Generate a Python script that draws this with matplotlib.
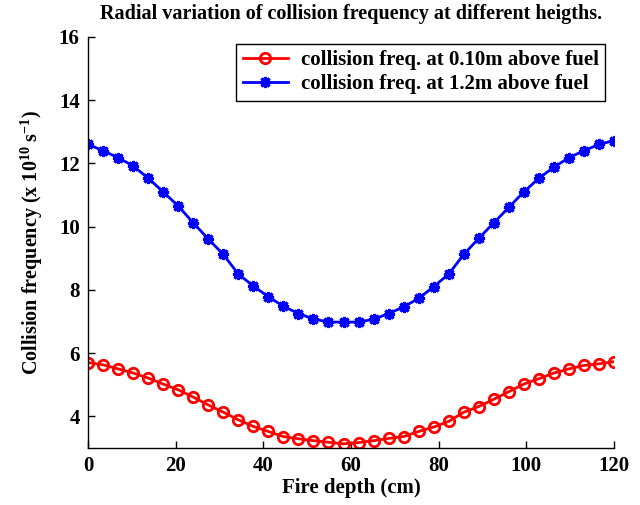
import numpy as np
import matplotlib
matplotlib.use("Agg")
import matplotlib.pyplot as plt

# Fire depth positions (cm) and collision frequency (x 10^10 s^-1)
depth = np.linspace(0, 120, 36)

freq_010m = [5.70, 5.63, 5.50, 5.37, 5.21, 5.02, 4.84, 4.61, 4.36, 4.13, 3.89, 3.68,
             3.52, 3.36, 3.29, 3.23, 3.18, 3.13, 3.17, 3.23, 3.30, 3.36, 3.52,
             3.66, 3.84, 4.13, 4.31, 4.54, 4.78, 5.02, 5.19, 5.37, 5.50, 5.61, 5.66, 5.73]

freq_12m = [12.60, 12.40, 12.18, 11.92, 11.53, 11.10, 10.65, 10.12, 9.61, 9.12, 8.50, 8.12,
            7.78, 7.48, 7.25, 7.08, 6.98, 6.98, 6.98, 7.07, 7.25, 7.46, 7.73, 8.10,
            8.50, 9.12, 9.63, 10.12, 10.61, 11.10, 11.53, 11.88, 12.18, 12.40, 12.60, 12.72]

x_ticks = [0, 20, 40, 60, 80, 100, 120]
y_ticks = [4, 6, 8, 10, 12, 14, 16]

plt.rcParams['font.family'] = ['Liberation Serif', 'DejaVu Serif']
plt.rcParams['font.weight'] = 'bold'
plt.rcParams['mathtext.fontset'] = 'custom'
plt.rcParams['mathtext.rm'] = 'Liberation Serif:bold'
plt.rcParams['mathtext.it'] = 'Liberation Serif:bold'
plt.rcParams['mathtext.bf'] = 'Liberation Serif:bold'

fig = plt.figure(figsize=(6.4, 5.05), dpi=100)
ax = fig.add_axes([0.1375, 0.113, 0.822, 0.814])

ax.plot(depth, freq_010m, color='red', lw=2, marker='o', ms=7.5,
        mfc='none', mec='red', mew=2, label='collision freq. at 0.10m above fuel')
ax.plot(depth, freq_12m, color='blue', lw=2, marker=(8, 2, 0), ms=8,
        mec='blue', mew=2.2, label='collision freq. at 1.2m above fuel')

ax.set_xlim(0, 120)
ax.set_ylim(3, 16)
ax.set_xticks(x_ticks)
ax.set_yticks(y_ticks)
ax.tick_params(direction='in', length=5, width=1, labelsize=15, pad=6)
for lab in ax.get_xticklabels() + ax.get_yticklabels():
    lab.set_fontweight('bold')

ax.spines['top'].set_visible(False)
ax.spines['right'].set_visible(False)
for s in ('left', 'bottom'):
    ax.spines[s].set_linewidth(1)

ax.set_xlabel('Fire depth (cm)', fontsize=15, fontweight='bold', labelpad=1)
ax.set_ylabel(r'Collision frequency (x 10$^{10}$ s$^{-1}$)', fontsize=14.5,
              fontweight='bold', labelpad=10)
ax.set_title('Radial variation of collision frequency at different heigths.',
             fontsize=14.5, fontweight='bold', pad=13)

leg = ax.legend(loc='upper right', bbox_to_anchor=(0.983, 0.983), borderaxespad=0,
                fontsize=15, frameon=True, fancybox=False, edgecolor='black',
                framealpha=1, handlelength=2.2, borderpad=0.3, labelspacing=0.2,
                handletextpad=0.6)
leg.get_frame().set_linewidth(1)

fig.savefig('out.png', dpi=100)
